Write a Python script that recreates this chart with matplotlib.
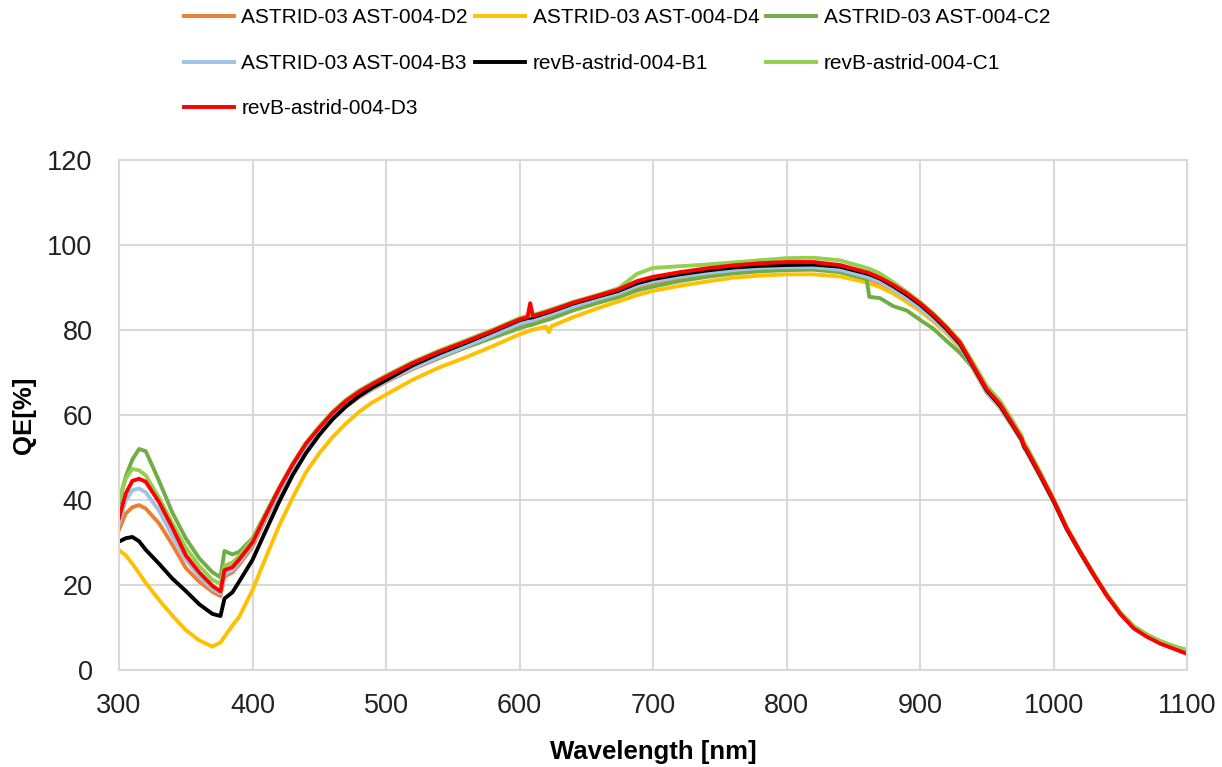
import matplotlib
matplotlib.use("Agg")
import matplotlib.pyplot as plt

# wavelength grid [nm]
wavelength = [300, 305, 310, 315, 320, 330, 340, 350, 360, 370,
              376, 379, 385, 390, 400, 410, 420, 430, 440, 450,
              460, 470, 480, 490, 500, 520, 540, 560, 580, 600,
              606, 608, 610, 620, 622, 624, 640, 660, 674, 688,
              700, 720, 740, 760, 780, 800, 820, 840, 860, 862,
              870, 880, 890, 900, 910, 920, 930, 940, 950, 960,
              970, 976, 978, 980, 990, 1000, 1010, 1020, 1030, 1040,
              1050, 1060, 1070, 1080, 1090, 1100]

# QE [%]
qe_d2 = [33.0, 36.8, 38.3, 38.8, 38.0, 34.5, 29.5, 24.0, 20.8, 18.4,
         17.4, 22.0, 23.0, 24.8, 29.0, 35.5, 41.5, 47.0, 52.0, 55.8,
         59.2, 62.0, 64.2, 66.1, 67.8, 70.8, 73.4, 76.0, 78.5, 81.2,
         81.7, 81.8, 82.0, 83.0, 83.2, 83.4, 85.2, 87.1, 88.3, 90.1,
         91.1, 92.2, 93.1, 93.8, 94.3, 94.5, 94.5, 93.9, 92.2, 92.0,
         91.0, 89.3, 87.2, 84.9, 82.3, 79.4, 76.0, 70.8, 65.2, 61.7,
         56.9, 53.9, 52.2, 51.2, 45.5, 39.6, 33.0, 27.5, 22.3, 17.4,
         13.3, 10.1, 8.1, 6.6, 5.4, 4.5]

qe_d4 = [28.2, 27.0, 25.0, 22.8, 20.5, 16.5, 12.8, 9.4, 7.0, 5.5,
         6.5, 7.8, 10.5, 12.5, 18.8, 26.5, 34.0, 40.5, 46.5, 51.0,
         54.8, 58.0, 60.8, 63.0, 64.8, 68.3, 71.2, 73.6, 76.2, 79.0,
         79.6, 79.9, 80.1, 80.8, 79.5, 80.9, 83.0, 85.3, 86.7, 88.2,
         89.2, 90.4, 91.4, 92.3, 92.8, 93.1, 93.1, 92.6, 91.2, 91.0,
         90.1, 88.6, 86.6, 84.5, 82.0, 79.2, 75.8, 70.8, 65.3, 61.8,
         57.0, 54.0, 52.3, 51.3, 45.6, 39.7, 33.1, 27.6, 22.4, 17.5,
         13.4, 10.2, 8.2, 6.7, 5.5, 4.5]

qe_c2 = [39.2, 45.5, 49.5, 52.0, 51.5, 44.5, 37.0, 31.0, 26.3, 23.0,
         21.8, 28.0, 27.2, 27.8, 31.0, 36.8, 42.5, 48.0, 52.8, 56.7,
         60.0, 62.8, 65.0, 66.8, 68.5, 71.3, 73.6, 75.9, 78.2, 80.4,
         81.0, 81.1, 81.3, 82.3, 82.5, 82.7, 84.6, 86.5, 87.7, 89.3,
         90.2, 91.5, 92.5, 93.3, 93.8, 94.1, 94.2, 93.6, 92.0, 87.8,
         87.5, 85.6, 84.6, 82.4, 80.3, 77.4, 74.6, 71.0, 65.8, 62.3,
         57.6, 54.6, 52.9, 51.9, 46.0, 40.0, 33.3, 27.8, 22.6, 17.7,
         13.5, 10.3, 8.3, 6.8, 5.6, 4.7]

qe_b3 = [34.5, 39.8, 42.3, 42.7, 41.8, 37.5, 31.5, 26.0, 22.0, 19.0,
         18.0, 22.5, 23.5, 25.3, 29.5, 35.8, 41.8, 47.3, 52.2, 56.0,
         59.4, 62.2, 64.4, 66.3, 68.0, 71.0, 73.7, 76.2, 78.8, 81.5,
         82.0, 82.1, 82.3, 83.3, 83.5, 83.7, 85.5, 87.4, 88.6, 90.4,
         91.4, 92.5, 93.4, 94.1, 94.6, 94.8, 94.8, 94.2, 92.5, 92.3,
         91.3, 89.5, 87.4, 85.1, 82.5, 79.6, 76.2, 71.0, 65.3, 61.8,
         57.0, 54.0, 52.3, 51.3, 45.6, 39.7, 33.1, 27.6, 22.4, 17.5,
         13.4, 10.2, 8.2, 6.7, 5.5, 4.6]

qe_b1 = [30.2, 31.0, 31.3, 30.3, 28.3, 25.0, 21.5, 18.6, 15.5, 13.2,
         12.7, 16.8, 18.3, 20.8, 25.9, 32.8, 39.6, 45.8, 51.0, 55.3,
         59.0, 62.0, 64.5, 66.5, 68.2, 71.7, 74.5, 77.0, 79.6, 82.3,
         82.8, 82.9, 83.0, 84.0, 84.2, 84.4, 86.2, 88.0, 89.2, 91.0,
         92.0, 93.1, 94.0, 94.7, 95.1, 95.3, 95.4, 94.9, 93.3, 93.1,
         92.1, 90.3, 88.3, 86.0, 83.3, 80.2, 76.7, 71.3, 65.8, 62.2,
         57.3, 54.3, 52.6, 51.6, 45.8, 39.8, 33.2, 27.7, 22.5, 17.6,
         13.4, 10.1, 8.1, 6.6, 5.4, 4.3]

qe_c1 = [40.0, 45.0, 47.3, 47.0, 45.8, 40.5, 34.5, 28.8, 24.5, 21.2,
         20.3, 24.5, 25.3, 26.8, 30.8, 37.0, 43.0, 48.6, 53.5, 57.3,
         60.8, 63.6, 65.8, 67.6, 69.3, 72.5, 75.2, 77.6, 80.1, 82.8,
         83.3, 83.4, 83.5, 84.5, 84.7, 84.9, 86.6, 88.4, 89.8, 93.2,
         94.6, 95.0, 95.4, 95.9, 96.4, 96.9, 97.0, 96.4, 94.6, 94.4,
         93.3, 91.2, 89.0, 86.6, 83.9, 80.8, 77.4, 72.2, 66.8, 63.3,
         58.3, 55.2, 53.5, 52.5, 46.6, 40.3, 33.6, 28.0, 22.8, 17.8,
         13.6, 10.3, 8.3, 6.8, 5.6, 4.6]

qe_d3 = [35.7, 41.5, 44.5, 45.0, 44.3, 39.5, 33.5, 27.0, 23.0, 19.8,
         18.5, 23.5, 24.2, 26.0, 30.0, 36.5, 42.7, 48.3, 53.2, 57.0,
         60.5, 63.3, 65.5, 67.3, 69.0, 72.2, 74.9, 77.3, 79.8, 82.5,
         83.0, 86.3, 83.3, 84.2, 84.4, 84.6, 86.4, 88.2, 89.5, 91.5,
         92.5, 93.6, 94.5, 95.2, 95.7, 96.0, 96.0, 95.3, 93.6, 93.4,
         92.3, 90.6, 88.6, 86.3, 83.6, 80.5, 77.0, 71.5, 66.0, 62.5,
         57.5, 54.5, 52.8, 51.8, 46.0, 40.0, 33.3, 27.8, 22.5, 17.5,
         13.2, 9.8, 7.8, 6.2, 5.0, 3.8]

labels = ["ASTRID-03 AST-004-D2", "ASTRID-03 AST-004-D4", "ASTRID-03 AST-004-C2",
          "ASTRID-03 AST-004-B3", "revB-astrid-004-B1", "revB-astrid-004-C1",
          "revB-astrid-004-D3"]
values = [qe_d2, qe_d4, qe_c2, qe_b3, qe_b1, qe_c1, qe_d3]
colors = ["#ED7D31", "#FFC000", "#70AD47", "#9DC3E6", "#000000", "#92D050", "#FF0000"]

plt.rcParams['font.family'] = ['Liberation Sans', 'DejaVu Sans']

fig = plt.figure(figsize=(12.22, 7.67), dpi=100)
ax = fig.add_axes([119 / 1222, 1 - 670 / 767, 1068 / 1222, 510 / 767])

handles = []
for lab, vals, col in zip(labels, values, colors):
    h, = ax.plot(wavelength, vals, color=col, linewidth=2.8, label=lab,
                 solid_joinstyle="round")
    handles.append(h)

ax.set_xlim(300, 1100)
ax.set_ylim(0, 120)
ax.set_xticks(range(300, 1101, 100))
ax.set_yticks(range(0, 121, 20))
ax.grid(True, color="#d9d9d9", linewidth=1.5)
ax.set_axisbelow(True)
for s in ax.spines.values():
    s.set_color("#d9d9d9")
    s.set_linewidth(1.5)
ax.tick_params(length=0, labelsize=19.5, colors="#222222")
ax.tick_params(axis="y", pad=19)
ax.tick_params(axis="x", pad=16.5)

ax.set_xlabel("Wavelength [nm]", fontsize=18.5, fontweight="bold", va="top")
ax.xaxis.set_label_coords(0.5, -0.137)
ax.set_ylabel("QE[%]", fontsize=18.5, fontweight="bold", va="center")
ax.yaxis.set_label_coords(-0.089, 0.5)

# excel-style legend order (row-wise), matplotlib fills column-wise
order = [0, 3, 6, 1, 4, 2, 5]
fig.legend([handles[i] for i in order], [labels[i] for i in order],
           ncol=3, loc="upper center", bbox_to_anchor=(0.505, 1.0),
           frameon=False, fontsize=15, handlelength=2.4, handletextpad=0.35,
           columnspacing=0.35, labelspacing=1.27, borderaxespad=0.1,
           borderpad=0.3)

fig.savefig("out.png", dpi=100)
